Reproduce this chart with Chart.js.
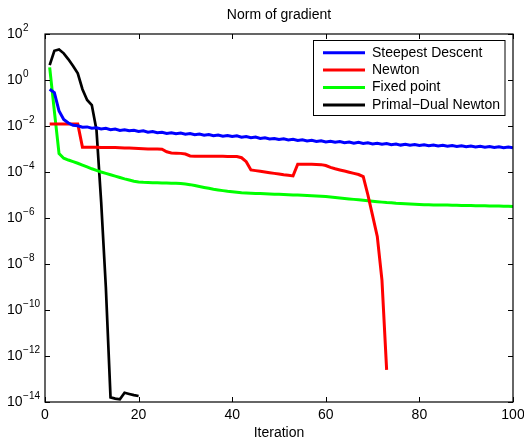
<!DOCTYPE html>
<html>
<head>
<meta charset="utf-8">
<title>Norm of gradient</title>
<script src="https://cdn.jsdelivr.net/npm/chart.js@4.4.1/dist/chart.umd.min.js"></script>
<style>
  body { margin: 0; background: #fff; }
  canvas { display: block; }
</style>
</head>
<body>
<canvas id="gradChart" width="524" height="441"></canvas>
<script>
// --- data (values are log10 of the gradient norm, one per iteration starting at 1) ---
const seriesNames = ['Steepest Descent', 'Newton', 'Fixed point', 'Primal\u2212Dual Newton'];
const seriesColors = ['#0000ff', '#ff0000', '#00ff00', '#000000'];

const xTicks = [0, 20, 40, 60, 80, 100];
const yTickPowers = [2, 0, -2, -4, -6, -8, -10, -12, -14];

const steepestExp = [
  -0.40, -0.55, -1.35, -1.72, -1.87, -1.97, -1.99, -2.05, -2.04, -2.10,
  -2.08, -2.13, -2.10, -2.16, -2.13, -2.19, -2.16, -2.21, -2.19, -2.24,
  -2.21, -2.27, -2.24, -2.29, -2.27, -2.32, -2.29, -2.34, -2.31, -2.36,
  -2.33, -2.38, -2.35, -2.40, -2.37, -2.42, -2.39, -2.44, -2.41, -2.46,
  -2.43, -2.49, -2.46, -2.51, -2.48, -2.54, -2.51, -2.56, -2.54, -2.59,
  -2.56, -2.61, -2.58, -2.63, -2.60, -2.65, -2.62, -2.67, -2.64, -2.69,
  -2.66, -2.71, -2.68, -2.73, -2.70, -2.75, -2.71, -2.76, -2.73, -2.78,
  -2.75, -2.79, -2.76, -2.81, -2.78, -2.83, -2.79, -2.84, -2.81, -2.85,
  -2.82, -2.86, -2.83, -2.87, -2.84, -2.88, -2.85, -2.89, -2.86, -2.90,
  -2.87, -2.91, -2.88, -2.92, -2.89, -2.93, -2.90, -2.94, -2.91, -2.95
];

const newtonExp = [
  -1.91, -1.91, -1.91, -1.91, -1.91, -1.91, -1.91, -2.92, -2.92, -2.92,
  -2.92, -2.93, -2.93, -2.94, -2.94, -2.95, -2.96, -2.96, -2.97, -2.98,
  -2.99, -3.00, -3.00, -3.00, -3.01, -3.12, -3.17, -3.18, -3.19, -3.22,
  -3.30, -3.31, -3.31, -3.31, -3.32, -3.32, -3.32, -3.32, -3.33, -3.33,
  -3.33, -3.38, -3.55, -3.91, -3.94, -3.97, -4.00, -4.03, -4.06, -4.09,
  -4.12, -4.14, -4.17, -3.66, -3.66, -3.66, -3.66, -3.67, -3.68, -3.72,
  -3.80, -3.86, -3.91, -3.96, -4.01, -4.06, -4.11, -4.20, -5.00, -5.90,
  -6.80, -8.70, -12.60
];

const fixedPointExp = [
   0.55, -1.35, -3.20, -3.40, -3.48, -3.55, -3.62, -3.70, -3.78, -3.86,
  -3.93, -4.00, -4.06, -4.12, -4.18, -4.24, -4.30, -4.35, -4.40, -4.43,
  -4.45, -4.46, -4.47, -4.47, -4.48, -4.48, -4.49, -4.49, -4.50, -4.52,
  -4.55, -4.59, -4.63, -4.67, -4.71, -4.75, -4.78, -4.81, -4.84, -4.86,
  -4.88, -4.90, -4.91, -4.92, -4.93, -4.94, -4.95, -4.96, -4.97, -4.97,
  -4.98, -4.99, -5.00, -5.00, -5.01, -5.02, -5.03, -5.04, -5.05, -5.07,
  -5.09, -5.11, -5.13, -5.15, -5.17, -5.19, -5.21, -5.23, -5.25, -5.27,
  -5.29, -5.31, -5.33, -5.34, -5.36, -5.37, -5.38, -5.39, -5.40, -5.41,
  -5.42, -5.42, -5.43, -5.43, -5.44, -5.44, -5.45, -5.45, -5.46, -5.46,
  -5.46, -5.47, -5.47, -5.47, -5.48, -5.48, -5.48, -5.49, -5.49, -5.50
];

const primalDualExp = [
   0.65,  1.27,  1.33,  1.16,  0.90,  0.61,  0.29, -0.40, -0.87, -1.09,
  -2.17, -5.30, -9.00, -13.80, -13.85, -13.88, -13.60, -13.65, -13.70, -13.74
];

const FONT = '"Liberation Sans", Arial, Helvetica, sans-serif';

// turns an exponent list into {x, y} points, iterations start at 1
const toPoints = (exps) => exps.map((e, i) => ({ x: i + 1, y: Math.pow(10, e) }));

const allSeries = [steepestExp, newtonExp, fixedPointExp, primalDualExp];

const datasets = allSeries.map((exps, i) => ({
  label: seriesNames[i],
  data: toPoints(exps),
  borderColor: seriesColors[i],
  backgroundColor: seriesColors[i],
  borderWidth: i === 3 ? 2.7 : 3,
  pointRadius: 0,
  tension: 0,
  fill: false
}));

// axes box, inward ticks, labels with superscripts, title and legend, matlab style
const matlabAxes = {
  id: 'matlabAxes',
  afterDatasetsDraw(chart) {
    const { ctx, chartArea: a } = chart;
    const xs = chart.scales.x;
    const ys = chart.scales.y;
    ctx.save();

    ctx.strokeStyle = '#000';
    ctx.lineWidth = 1.2;
    ctx.strokeRect(a.left, a.top, a.right - a.left, a.bottom - a.top);

    const tickLen = 5;
    ctx.beginPath();
    xTicks.forEach(t => {
      const px = Math.round(xs.getPixelForValue(t)) + 0.5;
      ctx.moveTo(px, a.bottom); ctx.lineTo(px, a.bottom - tickLen);
      ctx.moveTo(px, a.top); ctx.lineTo(px, a.top + tickLen);
    });
    yTickPowers.forEach(p => {
      const py = Math.round(ys.getPixelForValue(Math.pow(10, p))) + 0.5;
      ctx.moveTo(a.left, py); ctx.lineTo(a.left + tickLen, py);
      ctx.moveTo(a.right, py); ctx.lineTo(a.right - tickLen, py);
    });
    ctx.lineWidth = 1;
    ctx.stroke();

    ctx.fillStyle = '#000';
    ctx.textBaseline = 'middle';

    // x tick labels
    ctx.font = '14px ' + FONT;
    ctx.textAlign = 'center';
    xTicks.forEach(t => {
      ctx.fillText(String(t), xs.getPixelForValue(t), a.bottom + 13);
    });

    // y tick labels 10^p
    yTickPowers.forEach(p => {
      const py = ys.getPixelForValue(Math.pow(10, p));
      ctx.textAlign = 'left';
      ctx.font = '14px ' + FONT;
      ctx.fillText('10', 7, py + 0.5);
      const w = ctx.measureText('10').width;
      ctx.font = '10px ' + FONT;
      ctx.fillText(String(p).replace('-', '\u2212'), 7 + w + 0.5, py - 6);
    });

    // title and x label
    const cx = (a.left + a.right) / 2;
    ctx.textAlign = 'center';
    ctx.font = '14px ' + FONT;
    ctx.fillText('Norm of gradient', cx, 15);
    ctx.fillText('Iteration', cx, a.bottom + 31);

    // legend box
    const lx = 313.5, ly = 40.5, lw = 191.5, lh = 75;
    ctx.fillStyle = '#fff';
    ctx.fillRect(lx, ly, lw, lh);
    ctx.strokeStyle = '#000';
    ctx.lineWidth = 1;
    ctx.strokeRect(lx, ly, lw, lh);
    chart.data.datasets.forEach((ds, i) => {
      const ry = 52.7 + i * 17.4;
      ctx.strokeStyle = ds.borderColor;
      ctx.lineWidth = 3;
      ctx.beginPath();
      ctx.moveTo(323, ry); ctx.lineTo(365, ry);
      ctx.stroke();
      ctx.fillStyle = '#000';
      ctx.textAlign = 'left';
      ctx.font = '14px ' + FONT;
      ctx.fillText(ds.label, 372, ry);
    });

    ctx.restore();
  }
};

new Chart(document.getElementById('gradChart').getContext('2d'), {
  type: 'line',
  data: { datasets: datasets },
  options: {
    responsive: false,
    animation: false,
    layout: { padding: { left: 45, top: 34, right: 11, bottom: 39 } },
    plugins: {
      legend: { display: false },
      title: { display: false },
      tooltip: { enabled: false }
    },
    scales: {
      x: { type: 'linear', min: 0, max: 100, display: false },
      y: { type: 'logarithmic', min: 1e-14, max: 1e2, display: false }
    }
  },
  plugins: [matlabAxes]
});
</script>
</body>
</html>
